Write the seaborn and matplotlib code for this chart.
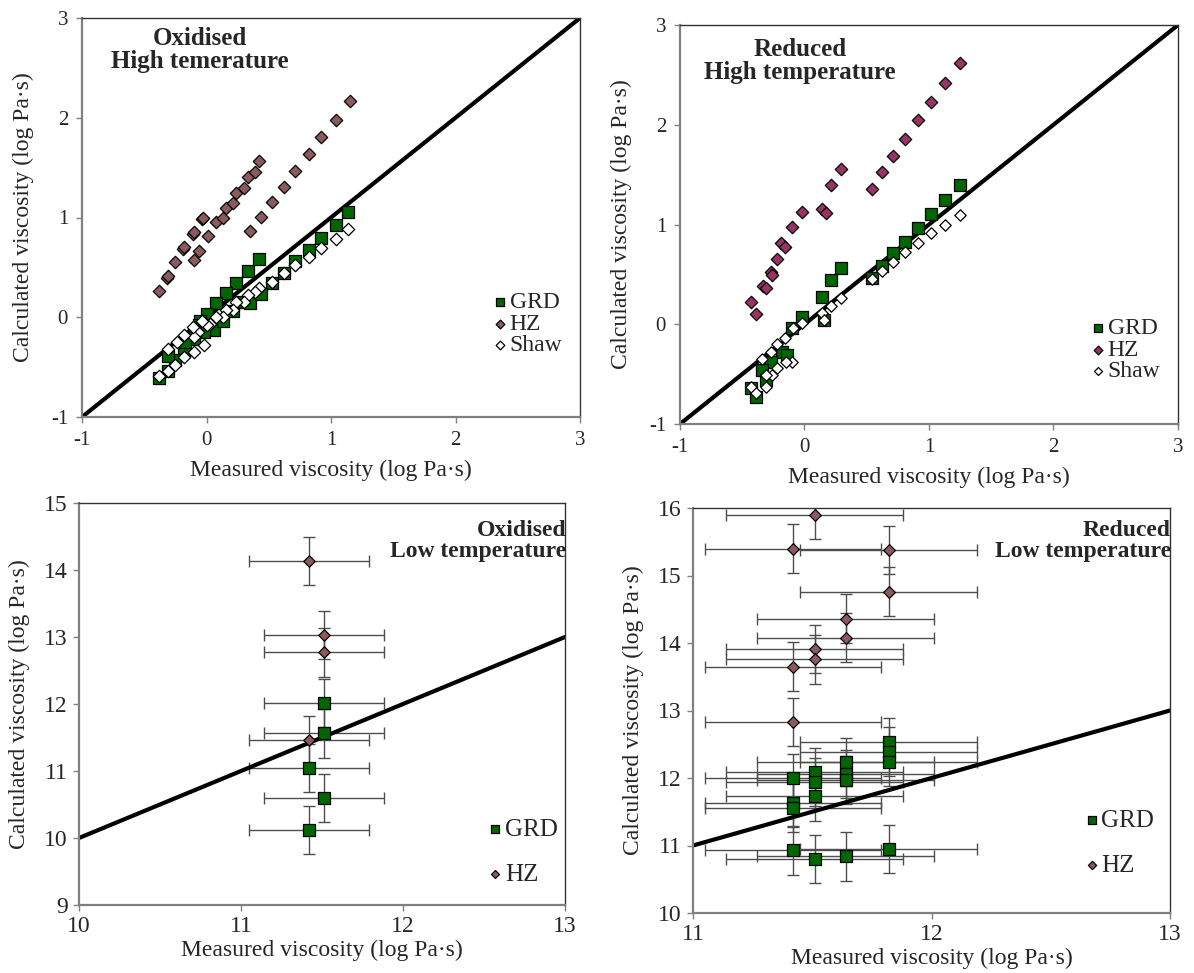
import numpy as np
import pandas as pd
import matplotlib
matplotlib.use("Agg")
import matplotlib.pyplot as plt
import seaborn as sns

sns.set_style("white")
plt.rcParams["font.family"] = ["Liberation Serif", "DejaVu Serif"]
plt.rcParams["axes.unicode_minus"] = False

# ---------------- data ----------------
# Oxidised, high temperature
oxh_hz_x = [-0.38, -0.32, -0.31, -0.25, -0.19, -0.18, -0.11, -0.10, -0.04, -0.03, -0.10, -0.06, 0.01, 0.08,
            0.13, 0.16, 0.21, 0.24, 0.30, 0.33, 0.39, 0.42, 0.35, 0.44, 0.53, 0.62, 0.71, 0.82, 0.92, 1.04, 1.15]
oxh_hz_y = [0.26, 0.39, 0.41, 0.55, 0.68, 0.70, 0.83, 0.85, 0.98, 1.00, 0.57, 0.66, 0.81, 0.95,
            1.00, 1.10, 1.15, 1.25, 1.30, 1.41, 1.46, 1.57, 0.86, 1.01, 1.16, 1.31, 1.47, 1.64, 1.81, 1.98, 2.17]
oxh_grd_x = [1.14, 1.04, 0.92, 0.82, 0.71, 0.62, 0.53, 0.42, 0.33, 0.24, 0.16, 0.08, 0.00, -0.05, -0.06,
             0.06, 0.13, 0.21, 0.29, 0.35, 0.44, -0.02, -0.10, -0.18, -0.25, -0.31, -0.31, -0.38, -0.17, -0.09]
oxh_grd_y = [1.06, 0.92, 0.79, 0.67, 0.56, 0.44, 0.34, 0.58, 0.46, 0.34, 0.24, 0.14, 0.03, -0.04, -0.08,
             -0.13, -0.04, 0.06, 0.15, 0.14, 0.23, -0.15, -0.22, -0.34, -0.43, -0.39, -0.54, -0.61, -0.25, -0.15]
oxh_shaw_x = [1.14, 1.04, 0.92, 0.82, 0.71, 0.62, 0.53, 0.42, 0.39, 0.33, 0.30, 0.24, 0.21, 0.16, 0.13, 0.08,
              0.03, 0.00, -0.04, -0.07, -0.02, -0.10, -0.11, -0.18, -0.10, -0.18, -0.24, -0.25, -0.31, -0.31, -0.38]
oxh_shaw_y = [0.88, 0.78, 0.69, 0.60, 0.52, 0.44, 0.35, 0.29, 0.25, 0.22, 0.15, 0.15, 0.07, 0.07, 0.00, 0.00,
              -0.07, -0.08, -0.04, -0.15, -0.28, -0.20, -0.10, -0.18, -0.35, -0.40, -0.25, -0.48, -0.32, -0.54, -0.59]

# Reduced, high temperature
redh_hz_x = [1.25, 1.13, 1.02, 0.91, 0.81, 0.71, 0.62, 0.54, 0.29, 0.21, 0.14, 0.17, -0.02, -0.10, -0.19,
             -0.16, -0.22, -0.27, -0.26, -0.33, -0.31, -0.43, -0.39]
redh_hz_y = [2.62, 2.42, 2.23, 2.05, 1.86, 1.69, 1.53, 1.36, 1.56, 1.40, 1.16, 1.12, 1.13, 0.97, 0.81,
             0.77, 0.65, 0.52, 0.49, 0.38, 0.36, 0.22, 0.10]
redh_grd_x = [1.25, 1.13, 1.02, 0.91, 0.81, 0.71, 0.62, 0.54, 0.29, 0.21, 0.14, 0.16, -0.02, -0.10, -0.18,
              -0.14, -0.27, -0.34, -0.31, -0.43, -0.39]
redh_grd_y = [1.40, 1.25, 1.11, 0.96, 0.82, 0.71, 0.58, 0.46, 0.56, 0.44, 0.27, 0.04, 0.07, -0.04, -0.28,
              -0.31, -0.38, -0.46, -0.56, -0.64, -0.73]
redh_shaw_x = [1.25, 1.13, 1.02, 0.91, 0.81, 0.71, 0.62, 0.54, 0.29, 0.21, 0.14, 0.16, -0.02, -0.09, -0.16,
               -0.22, -0.27, -0.34, -0.10, -0.15, -0.22, -0.26, -0.31, -0.31, -0.43, -0.39]
redh_shaw_y = [1.10, 1.00, 0.91, 0.81, 0.72, 0.62, 0.53, 0.45, 0.26, 0.18, 0.11, 0.04, 0.01, -0.04, -0.14,
               -0.20, -0.28, -0.35, -0.38, -0.38, -0.44, -0.51, -0.51, -0.63, -0.63, -0.69]

# Oxidised, low temperature
oxl_hz_x = [11.42, 11.51, 11.51, 11.42]
oxl_hz_y = [14.13, 13.03, 12.77, 11.46]
oxl_grd_x = [11.51, 11.51, 11.42, 11.51, 11.42]
oxl_grd_y = [12.01, 11.56, 11.05, 10.60, 10.12]

# Reduced, low temperature
redl_hz_x = [11.51, 11.42, 11.82, 11.82, 11.64, 11.64, 11.51, 11.51, 11.42, 11.42]
redl_hz_y = [15.90, 15.40, 15.38, 14.76, 14.36, 14.08, 13.91, 13.76, 13.65, 12.83]
redl_grd_x = [11.82, 11.82, 11.82, 11.64, 11.51, 11.51, 11.42, 11.64, 11.64, 11.51, 11.42, 11.42,
              11.42, 11.82, 11.64, 11.51]
redl_grd_y = [12.53, 12.39, 12.24, 12.24, 12.09, 11.94, 12.00, 12.06, 11.97, 11.73, 11.63, 11.56,
              10.93, 10.95, 10.84, 10.80]

x_err = 0.37
y_err = 0.36

GRD_C = "#006600"
HZ_C = "#8C5A5E"
HZ_RED_C = "#993366"

W, H = 1194, 973
fig = plt.figure(figsize=(W / 100, H / 100), dpi=100)


def add_ax(l, r, t, b):
    return fig.add_axes([l / W, 1 - b / H, (r - l) / W, (b - t) / H])


def style_ax(ax, xlim, ylim, xt, yt, tick_fs, tick_pad, xpad, ypad):
    ax.set_xlim(*xlim)
    ax.set_ylim(*ylim)
    ax.set_xticks(xt)
    ax.set_yticks(yt)
    ax.set_xticklabels([str(v) for v in xt])
    ax.set_yticklabels([str(v) for v in yt])
    for s in ["left", "bottom"]:
        ax.spines[s].set_color("#808080")
        ax.spines[s].set_linewidth(1.6)
    for s in ["top", "right"]:
        ax.spines[s].set_color("#333333")
        ax.spines[s].set_linewidth(1.0)
    ax.tick_params(direction="out", length=4, width=1, color="#808080",
                   labelsize=tick_fs, pad=tick_pad, bottom=True, left=True)
    ax.set_xlabel("Measured viscosity (log Pa·s)", fontsize=17, labelpad=xpad)
    ax.set_ylabel("Calculated viscosity (log Pa·s)", fontsize=17, labelpad=ypad)
    ax.grid(False)


def one_to_one(ax, lo, hi):
    d = pd.DataFrame({"x": [lo, hi], "y": [lo, hi]})
    sns.lineplot(data=d, x="x", y="y", color="black", lw=3.0, ax=ax, zorder=2, legend=False)


def scat(ax, x, y, marker, size, color, label, z):
    sns.scatterplot(x=x, y=y, marker=marker, s=size, color=color, edgecolor="black",
                    linewidth=0.9, ax=ax, label=label, zorder=z)


def legend(ax, fx, fy, spacing, fs):
    leg = ax.legend(loc="center left", bbox_to_anchor=(fx / W, 1 - fy / H),
                    bbox_transform=fig.transFigure, frameon=False, fontsize=fs,
                    handletextpad=0.0, handlelength=0.8, labelspacing=spacing,
                    borderpad=0, markerscale=0.7)
    return leg


# ---------------- panel 1 ----------------
ax1 = add_ax(82, 580, 18, 417)
one_to_one(ax1, -1, 3)
scat(ax1, oxh_grd_x, oxh_grd_y, "s", 78, GRD_C, "GRD", 3)
scat(ax1, oxh_hz_x, oxh_hz_y, "D", 40, HZ_C, "HZ", 4)
scat(ax1, oxh_shaw_x, oxh_shaw_y, "D", 40, "white", "Shaw", 5)
style_ax(ax1, (-1, 3), (-1, 3), [-1, 0, 1, 2, 3], [-1, 0, 1, 2, 3], 15, 6, 7, 12)
legend(ax1, 479, 324, 0.0, 17)
fig.text(200 / W, 1 - 50 / H, "Oxidised\nHigh temerature", ha="center", va="center",
         fontsize=18, fontweight="bold", linespacing=0.95)

# ---------------- panel 2 ----------------
ax2 = add_ax(680, 1178, 25, 424)
one_to_one(ax2, -1, 3)
scat(ax2, redh_grd_x, redh_grd_y, "s", 85, GRD_C, "GRD", 3)
scat(ax2, redh_hz_x, redh_hz_y, "D", 40, HZ_RED_C, "HZ", 4)
scat(ax2, redh_shaw_x, redh_shaw_y, "D", 34, "white", "Shaw", 5)
style_ax(ax2, (-1, 3), (-1, 3), [-1, 0, 1, 2, 3], [-1, 0, 1, 2, 3], 15, 6, 7, 12)
legend(ax2, 1077, 350, 0.0, 17)
fig.text(800 / W, 1 - 61 / H, "Reduced\nHigh temperature", ha="center", va="center",
         fontsize=18, fontweight="bold", linespacing=0.95)

# ---------------- panel 3 ----------------
ax3 = add_ax(79, 565, 503, 905)
one_to_one(ax3, 10, 13)
ax3.errorbar(oxl_grd_x, oxl_grd_y, xerr=x_err, yerr=y_err, fmt="none", ecolor="#4d4d4d",
             elinewidth=1.0, capsize=4, capthick=1.0, zorder=1)
ax3.errorbar(oxl_hz_x, oxl_hz_y, xerr=x_err, yerr=y_err, fmt="none", ecolor="#4d4d4d",
             elinewidth=1.0, capsize=4, capthick=1.0, zorder=1)
scat(ax3, oxl_grd_x, oxl_grd_y, "s", 78, GRD_C, "GRD", 3)
scat(ax3, oxl_hz_x, oxl_hz_y, "D", 34, HZ_C, "HZ", 4)
style_ax(ax3, (10, 13), (9, 15), [10, 11, 12, 13], [9, 10, 11, 12, 13, 14, 15], 17, 4, 2, 10)
legend(ax3, 473, 852, 0.9, 18)
fig.text(566 / W, 1 - 541 / H, "Oxidised\nLow temperature", ha="right", va="center",
         fontsize=17, fontweight="bold", linespacing=0.95, multialignment="right")

# ---------------- panel 4 ----------------
ax4 = add_ax(693, 1170, 508, 913)
one_to_one(ax4, 11, 13)
ax4.errorbar(redl_grd_x, redl_grd_y, xerr=x_err, yerr=y_err, fmt="none", ecolor="#4d4d4d",
             elinewidth=1.0, capsize=4, capthick=1.0, zorder=1)
ax4.errorbar(redl_hz_x, redl_hz_y, xerr=x_err, yerr=y_err, fmt="none", ecolor="#4d4d4d",
             elinewidth=1.0, capsize=4, capthick=1.0, zorder=1)
scat(ax4, redl_grd_x, redl_grd_y, "s", 85, GRD_C, "GRD", 3)
scat(ax4, redl_hz_x, redl_hz_y, "D", 36, HZ_C, "HZ", 4)
style_ax(ax4, (11, 13), (10, 16), [11, 12, 13], [10, 11, 12, 13, 14, 15, 16], 17, 4, 2, 10)
legend(ax4, 1069, 843, 0.9, 18)
fig.text(1171 / W, 1 - 541 / H, "Reduced\nLow temperature", ha="right", va="center",
         fontsize=17, fontweight="bold", linespacing=0.95, multialignment="right")

fig.savefig("out.png", dpi=100)
